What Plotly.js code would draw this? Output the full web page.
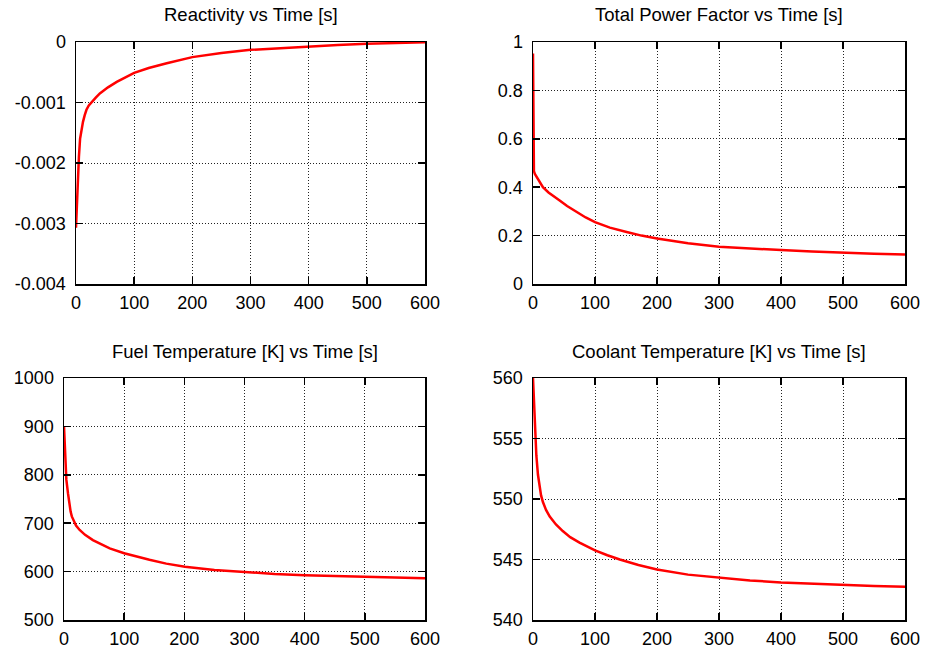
<!DOCTYPE html>
<html>
<head>
<meta charset="utf-8">
<script src="https://cdn.plot.ly/plotly-3.0.1.min.js"></script>
<style>html,body{margin:0;padding:0;background:#fff}#chart{width:939px;height:652px}</style>
</head>
<body>
<div id="chart"></div>
<script>
// ---- Data ----
const titles = ["Reactivity vs Time [s]", "Total Power Factor vs Time [s]", "Fuel Temperature [K] vs Time [s]", "Coolant Temperature [K] vs Time [s]"];

const reactTime = [0, 1.5, 3, 5, 7, 9, 12, 15, 18, 22, 27, 34, 41, 55, 70, 85, 100, 125, 156, 200, 250, 300, 350, 400, 450, 500, 550, 600];
const reactivity = [-0.00307, -0.0026, -0.0022, -0.0019, -0.0016, -0.00145, -0.00132, -0.00121, -0.00112, -0.00105, -0.00099, -0.00092, -0.00085, -0.00075, -0.00066, -0.00058, -0.00051, -0.00043, -0.00035, -0.00025, -0.00018, -0.00013, -0.0001, -0.00007, -0.00005, -0.00003, -0.000018, -0.000006];

const powerTime = [0, 0.5, 1.5, 3, 6, 10, 16, 25, 33, 43, 55, 70, 85, 100, 124, 151, 175, 200, 250, 300, 350, 400, 450, 494, 550, 600];
const powerFactor = [0.952, 0.5, 0.466, 0.455, 0.443, 0.425, 0.40, 0.378, 0.362, 0.345, 0.322, 0.297, 0.275, 0.256, 0.233, 0.215, 0.200, 0.188, 0.168, 0.154, 0.146, 0.14, 0.134, 0.129, 0.125, 0.122];

const fuelTime = [0, 1, 2.2, 3.9, 6.7, 9, 11, 13, 16, 20, 26, 35, 48, 60, 76, 100, 120, 142, 170, 201, 250, 300, 350, 400, 450, 500, 550, 600];
const fuelTemp = [900, 862, 823, 790, 761, 738, 724, 714, 704, 695, 686, 676, 665, 657, 648, 638, 631, 624.5, 616.5, 610, 603.5, 598.5, 595, 592.6, 590.6, 589, 587.6, 586.5];

const coolTime = [0, 1, 2.7, 5.4, 8, 10.8, 13, 16, 21, 27, 37, 48, 60, 75, 100, 120, 140, 170, 200, 250, 300, 350, 400, 450, 500, 550, 600];
const coolTemp = [560, 558.6, 556.6, 553.6, 552.0, 551.0, 550.3, 549.75, 549.1, 548.55, 547.9, 547.35, 546.85, 546.4, 545.75, 545.35, 545.0, 544.55, 544.17, 543.75, 543.48, 543.27, 543.1, 542.98, 542.88, 542.8, 542.74];

const xTicks = [0, 100, 200, 300, 400, 500, 600];
const reactTicks = [-0.004, -0.003, -0.002, -0.001, 0];
const reactTickText = ["-0.004", "-0.003", "-0.002", "-0.001", "0"];
const powerTicks = [0, 0.2, 0.4, 0.6, 0.8, 1];
const powerTickText = ["0", "0.2", "0.4", "0.6", "0.8", "1"];
const fuelTicks = [500, 600, 700, 800, 900, 1000];
const coolTicks = [540, 545, 550, 555, 560];

// ---- Layout ----
const W = 939, H = 652;
const fx = p => p / W;
const fy = p => 1 - p / H;
const FONT = '"Liberation Sans", Arial, Helvetica, sans-serif';

function common() {
  return {
    ticks: 'inside', ticklen: 7, tickwidth: 1.5, tickcolor: '#000',
    showline: true, linecolor: '#000', linewidth: 1.5, mirror: 'ticks',
    showgrid: true, gridcolor: '#222', gridwidth: 1, griddash: '1px,2px',
    zeroline: false,
    tickfont: {family: FONT, size: 18, color: '#000'}
  };
}
function xAxis(l, r, anchor) {
  return Object.assign(common(), {
    domain: [fx(l), fx(r)], anchor: anchor, range: [0, 600],
    tickvals: xTicks, ticktext: xTicks.map(String), ticklabelstandoff: 2
  });
}
function yAxis(t, b, anchor, range, vals, text) {
  return Object.assign(common(), {
    domain: [fy(b), fy(t)], anchor: anchor, range: range,
    tickvals: vals, ticktext: text, ticklabelstandoff: 5
  });
}

const lineStyle = {color: '#ff0000', width: 2.5};
const traces = [
  {x: reactTime, y: reactivity, xaxis: 'x', yaxis: 'y', mode: 'lines', line: lineStyle},
  {x: powerTime, y: powerFactor, xaxis: 'x2', yaxis: 'y2', mode: 'lines', line: lineStyle},
  {x: fuelTime, y: fuelTemp, xaxis: 'x3', yaxis: 'y3', mode: 'lines', line: lineStyle},
  {x: coolTime, y: coolTemp, xaxis: 'x4', yaxis: 'y4', mode: 'lines', line: lineStyle}
];

const centers = [[(76 + 425) / 2, 15], [(533 + 905) / 2, 15], [(64 + 425) / 2, 351], [(533 + 905) / 2, 351]];
const annotations = titles.map((t, i) => ({
  text: t, xref: 'paper', yref: 'paper', x: fx(centers[i][0]), y: fy(centers[i][1]),
  xanchor: 'center', yanchor: 'middle', showarrow: false,
  font: {family: FONT, size: 18.5, color: '#000'}
}));

const layout = {
  width: W, height: H, margin: {l: 0, r: 0, t: 0, b: 0},
  paper_bgcolor: '#fff', plot_bgcolor: '#fff', showlegend: false,
  font: {family: FONT, size: 18, color: '#000'},
  xaxis: xAxis(76, 425, 'y'),
  yaxis: yAxis(42, 284, 'x', [-0.004, 0], reactTicks, reactTickText),
  xaxis2: xAxis(533, 905, 'y2'),
  yaxis2: yAxis(42, 284, 'x2', [0, 1], powerTicks, powerTickText),
  xaxis3: xAxis(64, 425, 'y3'),
  yaxis3: yAxis(378, 620, 'x3', [500, 1000], fuelTicks, fuelTicks.map(String)),
  xaxis4: xAxis(533, 905, 'y4'),
  yaxis4: yAxis(378, 620, 'x4', [540, 560], coolTicks, coolTicks.map(String)),
  annotations: annotations
};

Plotly.newPlot('chart', traces, layout, {displayModeBar: false, staticPlot: true});
</script>
</body>
</html>
